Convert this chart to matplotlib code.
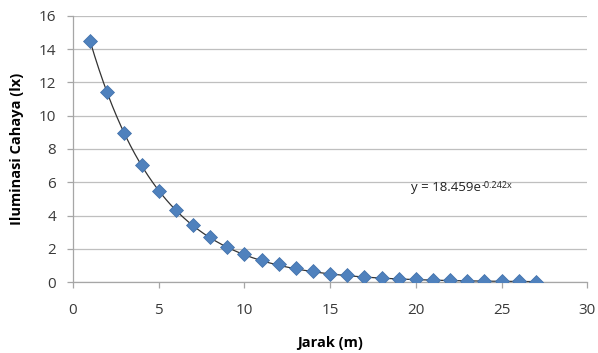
import matplotlib
matplotlib.use("Agg")
import matplotlib.pyplot as plt
import numpy as np

# measured data
jarak = list(range(1, 28))
iluminasi = [14.5, 11.4, 8.95, 7.05, 5.5, 4.33, 3.42, 2.68, 2.12, 1.68,
             1.32, 1.06, 0.82, 0.65, 0.5, 0.4, 0.32, 0.25, 0.2, 0.16,
             0.13, 0.1, 0.08, 0.07, 0.05, 0.04, 0.03]

# exponential trendline coefficients
fit_a = 18.459
fit_b = -0.242

x_ticks = [0, 5, 10, 15, 20, 25, 30]
y_ticks = [0, 2, 4, 6, 8, 10, 12, 14, 16]

plt.rcParams["font.family"] = ["Open Sans", "DejaVu Sans"]

fig = plt.figure(figsize=(5.98, 3.53), dpi=100)
ax = fig.add_axes([0.122, 0.201, 0.86, 0.754])

xs = np.linspace(min(jarak), max(jarak), 300)
ax.plot(xs, fit_a * np.exp(fit_b * xs), color="#333333", lw=0.9, zorder=2)
ax.plot(jarak, iluminasi, linestyle="none", marker="D", markersize=7,
        color="#4F81BD", markeredgecolor="#3E6EA8", markeredgewidth=0.5, zorder=3)

ax.set_xlim(0, 30)
ax.set_ylim(0, 16)
ax.set_xticks(x_ticks)
ax.set_yticks(y_ticks)
ax.grid(axis="y", color="#BFBFBF", lw=0.9)
ax.set_axisbelow(True)

for s in ["top", "right"]:
    ax.spines[s].set_visible(False)
for s in ["left", "bottom"]:
    ax.spines[s].set_color("#A6A6A6")
    ax.spines[s].set_linewidth(0.9)
ax.tick_params(axis="both", colors="#A6A6A6", length=4, width=0.9,
               labelsize=11, labelcolor="#3A3A3A")
ax.tick_params(axis="y", pad=8)
ax.tick_params(axis="x", pad=11)

ax.set_xlabel("Jarak (m)", fontsize=10.5, fontweight="bold", labelpad=13)
ax.set_ylabel("Iluminasi Cahaya (lx)", fontsize=10.5, fontweight="bold", labelpad=11)

eq = ax.text(19.7, 5.45, f"y = {fit_a}e", fontsize=9.5,
             color="#222222", ha="left", va="baseline")
fig.canvas.draw()
bb = eq.get_window_extent()
ax.annotate(f"{fit_b}x", xy=(bb.x1 + 1, bb.y1), xycoords="figure pixels",
            fontsize=6.5, color="#222222", ha="left", va="top")

fig.savefig("out.png", dpi=100)
